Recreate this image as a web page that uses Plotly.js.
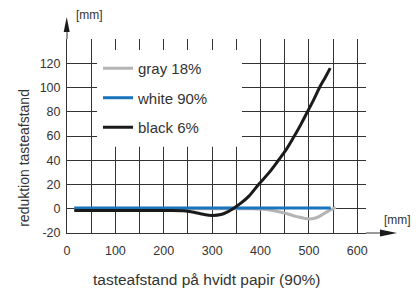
<!DOCTYPE html>
<html>
<head>
<meta charset="utf-8">
<script src="https://cdn.plot.ly/plotly-3.0.1.min.js"></script>
<style>html,body{margin:0;padding:0;background:#fff;}#chart{width:416px;height:291px;}</style>
</head>
<body>
<div id="chart"></div>
<script>
// ---- data ----
const seriesNames = ["gray 18%", "white 90%", "black 6%"];
const grayX = [15, 100, 200, 300, 380, 400, 425, 450, 475, 502, 518, 531, 542, 550, 555];
const grayY = [0, 0, 0, 0, 0, -0.3, -1.5, -3.5, -6.5, -8.4, -7, -4, -1.5, 0, 1.3];
const whiteX = [15, 100, 200, 300, 400, 500, 545];
const whiteY = [0.6, 0.6, 0.6, 0.6, 0.6, 0.6, 0.6];
const blackX = [15, 100, 200, 240, 262, 282, 300, 318, 332, 343, 360, 375, 396, 418, 437, 453, 470, 484, 497, 510, 522, 534, 544];
const blackY = [-1.4, -1.4, -1.4, -1.6, -2.8, -4.6, -5.5, -4.8, -2.5, 0, 4.8, 10, 20, 30, 40, 48.7, 60, 70, 80, 90, 100, 108.5, 116];
const xTickVals = [0, 100, 200, 300, 400, 500, 600];
const xMinorVals = [50, 150, 250, 350, 450, 550];
const yTickVals = [-20, 0, 20, 40, 60, 80, 100, 120, 140];
const yTickText = ["-20", "0", "20", "40", "60", "80", "100", "120", ""];
const unitLabel = "[mm]";
const xTitle = "tasteafstand på hvidt papir (90%)";
const yTitle = "reduktion tasteafstand";

// ---- layout helpers ----
const L = 67, R = 366, T = 39, B = 233.3;
const W = 416, H = 291;
const px = v => (v - L) / (R - L);
const py = v => (B - v) / (B - T);
const gridC = "#333333";
const font = "Liberation Sans, Arial, sans-serif";

const traces = [
  {x: grayX, y: grayY, name: seriesNames[0], legendgroup: "g", mode: "lines",
   line: {color: "#b4b4b4", width: 3, shape: "spline", smoothing: 1}},
  {x: whiteX, y: whiteY, name: seriesNames[1], legendgroup: "w", mode: "lines",
   line: {color: "#1874bd", width: 3}},
  {x: blackX, y: blackY, name: seriesNames[2], legendgroup: "b", mode: "lines",
   line: {color: "#1a1a1a", width: 3, shape: "spline", smoothing: 1}}
];

const layout = {
  width: W, height: H,
  margin: {l: L, r: W - R, t: T, b: H - B, pad: 0},
  paper_bgcolor: "#fff", plot_bgcolor: "#fff",
  font: {family: font, color: "#333", size: 12},
  showlegend: true,
  legend: {x: px(98), y: py(52), xanchor: "left", yanchor: "top",
           bgcolor: "rgba(0,0,0,0)", font: {size: 15, color: "#333"},
           traceorder: "grouped", tracegroupgap: 7, itemwidth: 30},
  xaxis: {range: [0, 618], tickvals: xTickVals, showgrid: true, gridcolor: gridC, gridwidth: 1,
          minor: {tickvals: xMinorVals, showgrid: true, gridcolor: gridC, gridwidth: 1},
          zeroline: false, showline: true, linecolor: gridC, linewidth: 1, ticks: "",
          ticklabelstandoff: 6, tickfont: {size: 12.5, color: "#333"}, fixedrange: true},
  yaxis: {range: [-20, 140], tickvals: yTickVals, ticktext: yTickText, showgrid: true,
          gridcolor: gridC, gridwidth: 1, zeroline: false, showline: true, linecolor: gridC,
          linewidth: 1, ticks: "", ticklabelstandoff: 3, tickfont: {size: 12.5, color: "#333"},
          fixedrange: true},
  shapes: [
    {type: "rect", xref: "paper", yref: "paper", x0: px(97), x1: px(242), y0: py(147), y1: py(50),
     fillcolor: "#fff", line: {width: 0}, layer: "above"},
    {type: "line", xref: "paper", yref: "paper", x0: px(R), x1: px(381), y0: 0, y1: 0,
     line: {color: gridC, width: 1}},
    {type: "path", xref: "paper", yref: "paper",
     path: `M ${px(397)} ${py(233.3)} L ${px(380)} ${py(229.8)} L ${px(380)} ${py(236.8)} Z`,
     fillcolor: "#1a1a1a", line: {width: 0}},
    {type: "line", xref: "paper", yref: "paper", x0: 0, x1: 0, y0: 1, y1: py(31),
     line: {color: gridC, width: 1}},
    {type: "path", xref: "paper", yref: "paper",
     path: `M ${px(66.7)} ${py(17)} L ${px(63.7)} ${py(32)} L ${px(69.7)} ${py(32)} Z`,
     fillcolor: "#1a1a1a", line: {width: 0}}
  ],
  annotations: [
    {text: unitLabel, xref: "paper", yref: "paper", x: px(74), y: py(15), xanchor: "left",
     yanchor: "middle", showarrow: false, font: {size: 12, color: "#333"}},
    {text: unitLabel, xref: "paper", yref: "paper", x: px(382), y: py(220), xanchor: "left",
     yanchor: "middle", showarrow: false, font: {size: 12, color: "#333"}},
    {text: xTitle, xref: "paper", yref: "paper", x: px(206), y: py(280), xanchor: "center",
     yanchor: "middle", showarrow: false, font: {size: 15.5, color: "#333"}},
    {text: yTitle, xref: "paper", yref: "paper", x: px(24), y: py(158), xanchor: "center",
     yanchor: "middle", textangle: -90, showarrow: false, font: {size: 14, color: "#333"}}
  ]
};

Plotly.newPlot("chart", traces, layout, {displayModeBar: false, staticPlot: true});
</script>
</body>
</html>
